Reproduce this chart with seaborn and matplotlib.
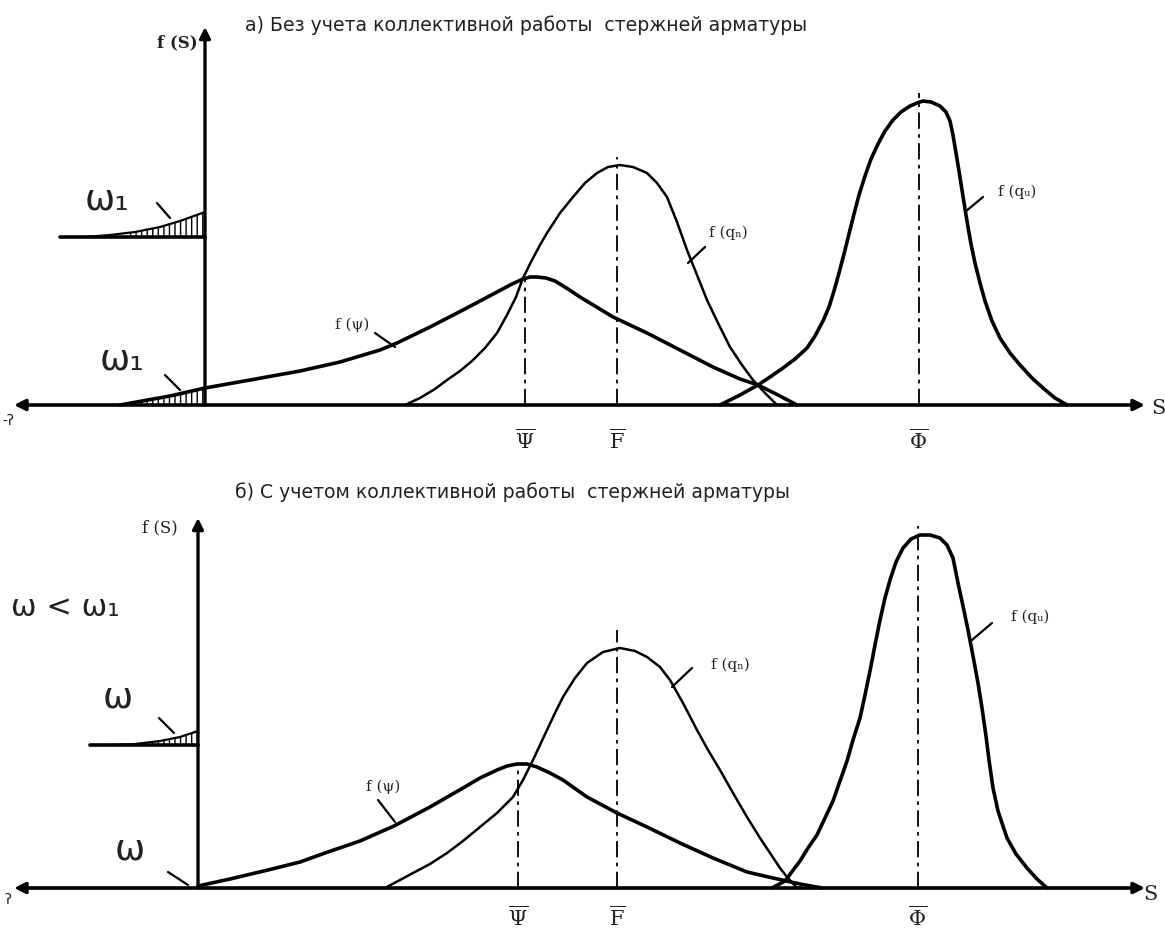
import matplotlib
matplotlib.use("Agg")
import matplotlib.pyplot as plt
import seaborn as sns

# Curve points.
# S is in pixel-like units along the axis, f is the height above the S axis.

# ---- panel a) without collective work of bars ----
a_psi_s = [120, 170, 205, 250, 300, 340, 380, 397, 430, 463, 497, 512, 523, 530, 537, 546, 555, 568, 580, 613, 647, 680, 713, 740, 758, 778, 797]
a_psi_f = [0, 9, 17, 25, 34, 43, 55, 62, 78, 95, 113, 121, 126, 128, 128, 127, 124, 116, 108, 88, 72, 55, 38, 26, 20, 10, 0]

a_qn_s = [405, 420, 435, 447, 460, 472, 485, 497, 507, 516, 523, 532, 540, 547, 560, 573, 585, 597, 608, 620, 633, 647, 657, 667, 677, 687, 697, 707, 718, 730, 742, 753, 765, 777]
a_qn_f = [0, 7, 16, 25, 34, 44, 57, 72, 90, 108, 127, 145, 160, 172, 192, 208, 222, 232, 238, 240, 238, 232, 222, 208, 183, 155, 130, 105, 82, 58, 40, 25, 12, 0]

a_qs_s = [720, 740, 758, 770, 783, 795, 807, 815, 823, 829, 834, 839, 844, 849, 854, 859, 865, 871, 878, 885, 893, 901, 910, 917, 923, 931, 940, 946, 950, 953, 956, 959, 962, 965, 968, 971, 975, 980, 985, 992, 1000, 1010, 1020, 1032, 1043, 1055, 1067]
a_qs_f = [0, 10, 20, 28, 37, 46, 57, 69, 84, 98, 114, 132, 151, 171, 191, 210, 229, 246, 261, 274, 285, 293, 299, 302, 304, 303, 299, 293, 284, 270, 252, 234, 215, 196, 178, 161, 142, 122, 104, 84, 67, 52, 40, 27, 17, 7, 0]

a_means_s = [525, 617, 919]
a_means_top = [127, 248, 312]

# small omega_1 sketch at the S axis (tail of f(psi))
a_tail_s = [85, 110, 135, 160, 180, 205]
a_tail_f = [168, 170, 173, 178, 184, 193]
a_tail_base = 168
a_hatch_s = [130, 145, 160, 175, 190, 205]
a_hatch_f = [172, 175, 178, 182, 187, 193]
a_low_hatch_s = [140, 155, 170, 185, 205]
a_low_hatch_f = [4, 6, 9, 12, 17]

# ---- panel b) with collective work of bars ----
b_psi_s = [198, 230, 268, 300, 325, 360, 394, 430, 463, 480, 497, 507, 517, 527, 537, 550, 563, 587, 617, 647, 680, 713, 747, 773, 800, 822]
b_psi_f = [2, 9, 18, 26, 35, 47, 62, 81, 100, 110, 118, 122, 124, 124, 121, 115, 108, 91, 75, 61, 45, 30, 16, 10, 4, 0]

b_qn_s = [385, 400, 413, 430, 447, 463, 480, 497, 513, 523, 533, 540, 547, 555, 563, 575, 587, 603, 620, 635, 647, 660, 670, 683, 697, 708, 720, 733, 747, 760, 770, 780, 787, 797]
b_qn_f = [0, 8, 15, 24, 35, 47, 61, 75, 91, 108, 128, 143, 158, 175, 191, 210, 225, 236, 240, 237, 231, 221, 208, 185, 158, 138, 118, 95, 71, 50, 35, 20, 11, 0]

b_qs_s = [772, 785, 800, 808, 817, 825, 833, 840, 847, 853, 860, 865, 870, 875, 880, 885, 890, 896, 903, 911, 920, 930, 940, 947, 953, 958, 963, 968, 973, 978, 982, 986, 989, 993, 998, 1007, 1016, 1027, 1037, 1047]
b_qs_f = [0, 7, 27, 40, 53, 70, 87, 107, 127, 148, 170, 193, 217, 243, 268, 290, 308, 326, 340, 349, 353, 353, 350, 343, 330, 305, 282, 258, 232, 205, 180, 152, 128, 100, 77, 50, 34, 20, 9, 0]

b_means_s = [518, 617, 918]
b_means_top = [124, 258, 362]

b_tail_s = [110, 135, 160, 180, 198]
b_tail_f = [143, 144, 147, 151, 157]
b_tail_base = 143
b_hatch_s = [150, 165, 180, 198]
b_hatch_f = [146, 148, 151, 157]

mean_labels = [r"$\overline{\Psi}$", r"$\overline{\mathrm{F}}$", r"$\overline{\Phi}$"]

title_a = "а) Без учета коллективной работы  стержней арматуры"
title_b = "б) С учетом коллективной работы  стержней арматуры"

sns.set_style("white")
plt.rcParams["font.family"] = ["DejaVu Sans"]
plt.rcParams["text.color"] = "#222222"
plt.rcParams["mathtext.fontset"] = "dejavuserif"
plt.rcParams["hatch.linewidth"] = 1.0

fig = plt.figure(figsize=(11.65, 9.31), dpi=100)
ax_a = fig.add_axes([0, 466 / 931, 1, 465 / 931])
ax_b = fig.add_axes([0, 0, 1, 466 / 931])
ax_a.set_xlim(0, 1165)
ax_a.set_ylim(-60, 405)
ax_b.set_xlim(0, 1165)
ax_b.set_ylim(-43, 423)


def curve(ax, s, f, lw):
    sns.lineplot(x=s, y=f, ax=ax, color="black", lw=lw, sort=False, estimator=None)


def axes_arrows(ax, x0, ytop):
    ax.annotate("", xy=(1145, 0), xytext=(14, 0),
                arrowprops=dict(arrowstyle="<|-|>", lw=2.6, color="black",
                                mutation_scale=16, shrinkA=0, shrinkB=0))
    ax.annotate("", xy=(x0, ytop), xytext=(x0, 0),
                arrowprops=dict(arrowstyle="-|>", lw=2.4, color="black",
                                mutation_scale=16, shrinkA=0, shrinkB=0))


def means(ax, xs, tops, ylab):
    for x, t, lab in zip(xs, tops, mean_labels):
        ax.plot([x, x], [0, t], color="black", lw=1.3, ls=(0, (9, 3, 2, 3)))
        ax.text(x, ylab, lab, ha="center", va="center", fontsize=15, fontweight="bold")


def leader(ax, p0, p1):
    ax.plot([p0[0], p1[0]], [p0[1], p1[1]], color="black", lw=1.6)


# ---------- panel a ----------
ax = ax_a
axes_arrows(ax, 205, 378)
curve(ax, a_psi_s, a_psi_f, 2.6)
curve(ax, a_qn_s, a_qn_f, 1.8)
curve(ax, a_qs_s, a_qs_f, 2.6)
means(ax, a_means_s, a_means_top, -36)

ax.plot([60, 205], [a_tail_base, a_tail_base], color="black", lw=2.6)
curve(ax, a_tail_s, a_tail_f, 1.6)
ax.fill_between(a_hatch_s, a_tail_base, a_hatch_f, facecolor="none",
                edgecolor="black", hatch="|||", lw=0)
ax.fill_between(a_low_hatch_s, 0, a_low_hatch_f, facecolor="none",
                edgecolor="black", hatch="|||", lw=0)

ax.text(245, 380, title_a, fontsize=13.6, ha="left", va="center")
ax.text(177, 362, "f (S)", fontsize=12, fontweight="bold", ha="center", va="center",
        family="DejaVu Serif")
ax.text(107, 205, "ω₁", fontsize=26, ha="center", va="center")
leader(ax, (157, 202), (170, 187))
ax.text(122, 45, "ω₁", fontsize=26, ha="center", va="center")
leader(ax, (165, 30), (180, 15))
ax.text(352, 80, "f (ψ)", fontsize=11, ha="center", va="center", family="DejaVu Serif")
leader(ax, (375, 72), (395, 58))
ax.text(728, 172, "f (qₙ)", fontsize=11, ha="center", va="center", family="DejaVu Serif")
leader(ax, (705, 158), (688, 142))
ax.text(1017, 213, "f (qᵤ)", fontsize=11, ha="center", va="center", family="DejaVu Serif")
leader(ax, (983, 208), (965, 193))
ax.text(1158, -3, "S", fontsize=15, ha="center", va="center", family="DejaVu Serif")
ax.text(8, -16, "-ʔ", fontsize=10, ha="center", va="center")

# ---------- panel b ----------
ax = ax_b
axes_arrows(ax, 198, 370)
curve(ax, b_psi_s, b_psi_f, 2.6)
curve(ax, b_qn_s, b_qn_f, 1.8)
curve(ax, b_qs_s, b_qs_f, 2.6)
means(ax, b_means_s, b_means_top, -30)

ax.plot([90, 198], [b_tail_base, b_tail_base], color="black", lw=2.6)
curve(ax, b_tail_s, b_tail_f, 1.6)
ax.fill_between(b_hatch_s, b_tail_base, b_hatch_f, facecolor="none",
                edgecolor="black", hatch="|||", lw=0)

ax.text(235, 396, title_b, fontsize=13.6, ha="left", va="center")
ax.text(160, 360, "f (S)", fontsize=12, ha="center", va="center", family="DejaVu Serif")
ax.text(65, 281, "ω < ω₁", fontsize=22, ha="center", va="center")
ax.text(118, 190, "ω", fontsize=26, ha="center", va="center")
leader(ax, (159, 170), (174, 155))
ax.text(130, 38, "ω", fontsize=26, ha="center", va="center")
leader(ax, (168, 16), (188, 3))
ax.text(383, 101, "f (ψ)", fontsize=11, ha="center", va="center", family="DejaVu Serif")
leader(ax, (378, 88), (395, 66))
ax.text(730, 223, "f (qₙ)", fontsize=11, ha="center", va="center", family="DejaVu Serif")
leader(ax, (692, 220), (672, 201))
ax.text(1030, 271, "f (qᵤ)", fontsize=11, ha="center", va="center", family="DejaVu Serif")
leader(ax, (992, 265), (972, 248))
ax.text(1150, -7, "S", fontsize=15, ha="center", va="center", family="DejaVu Serif")
ax.text(8, -12, "ʔ", fontsize=10, ha="center", va="center")

for ax in (ax_a, ax_b):
    ax.set_axis_off()

fig.savefig("out.png", dpi=100)
